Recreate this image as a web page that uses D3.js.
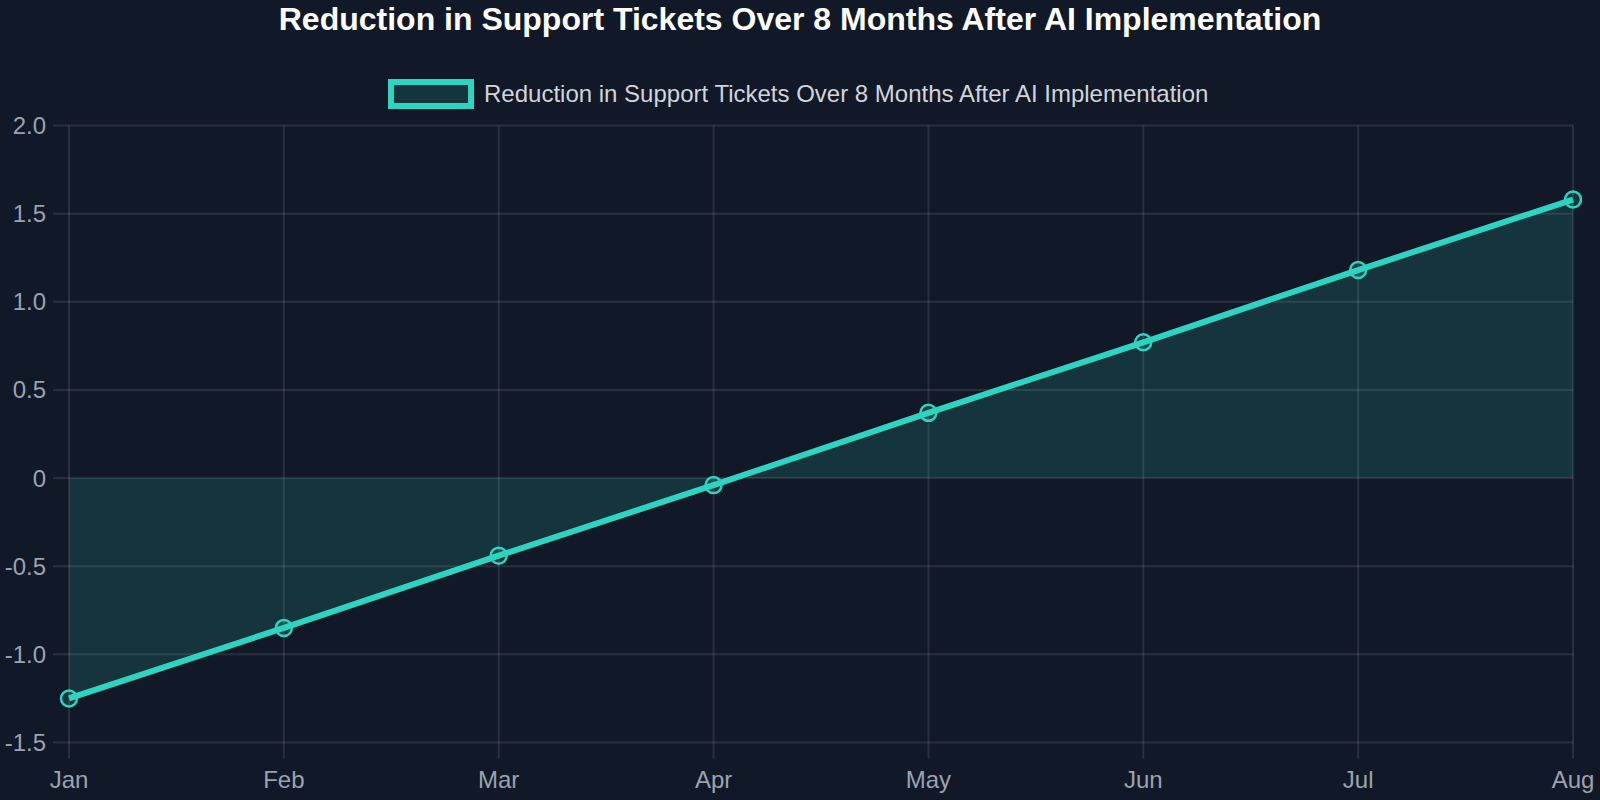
<!DOCTYPE html>
<html>
<head>
<meta charset="utf-8">
<script src="https://cdn.jsdelivr.net/npm/d3@7"></script>
<style>
  html, body { margin: 0; padding: 0; background: #111827; }
  svg { display: block; }
  text { font-family: "Liberation Sans", Arial, Helvetica, sans-serif; }
</style>
</head>
<body>
<svg id="chart" width="1600" height="800"></svg>
<script>
const titleText = "Reduction in Support Tickets Over 8 Months After AI Implementation";
const seriesName = "Reduction in Support Tickets Over 8 Months After AI Implementation";
const months = ["Jan", "Feb", "Mar", "Apr", "May", "Jun", "Jul", "Aug"];
const values = [-1.25, -0.85, -0.44, -0.04, 0.37, 0.77, 1.18, 1.58];
const yTicks = [-1.5, -1.0, -0.5, 0, 0.5, 1.0, 1.5, 2.0];
const yTickLabels = ["-1.5", "-1.0", "-0.5", "0", "0.5", "1.0", "1.5", "2.0"];

const W = 1600, H = 800;
const plot = { left: 69, right: 1573, top: 125.5, bottom: 742.5 };
const teal = "#2dd4bf";
const tealFill = "rgba(45,212,191,0.15)";
const gridColor = "rgba(255,255,255,0.1)";
const tickColor = "#9ca3af";

const svg = d3.select("#chart");
svg.append("rect").attr("width", W).attr("height", H).attr("fill", "#111827");

const x = d3.scalePoint().domain(months).range([plot.left, plot.right]);
const y = d3.scaleLinear().domain([-1.5, 2.0]).range([plot.bottom, plot.top]);

// grid
const grid = svg.append("g");
grid.selectAll("line.h").data(yTicks).join("line")
  .attr("x1", plot.left - 16).attr("x2", plot.right)
  .attr("y1", d => y(d)).attr("y2", d => y(d))
  .attr("stroke", gridColor).attr("stroke-width", 2);
grid.selectAll("line.v").data(months).join("line")
  .attr("x1", d => x(d)).attr("x2", d => x(d))
  .attr("y1", plot.top).attr("y2", plot.bottom + 16)
  .attr("stroke", gridColor).attr("stroke-width", 2);

// y labels
svg.append("g").selectAll("text").data(yTicks).join("text")
  .attr("x", 46).attr("y", d => y(d) + 8.5)
  .attr("text-anchor", "end")
  .attr("font-size", 24).attr("fill", tickColor)
  .text((d, i) => yTickLabels[i]);

// x labels
svg.append("g").selectAll("text").data(months).join("text")
  .attr("x", d => x(d)).attr("y", 788)
  .attr("text-anchor", "middle")
  .attr("font-size", 24).attr("fill", tickColor)
  .text(d => d);

const data = months.map((m, i) => ({ m, v: values[i] }));

// area to origin
const area = d3.area().x(d => x(d.m)).y0(y(0)).y1(d => y(d.v));
svg.append("path").datum(data).attr("d", area).attr("fill", tealFill);

// line
const line = d3.line().x(d => x(d.m)).y(d => y(d.v));
svg.append("path").datum(data).attr("d", line)
  .attr("fill", "none").attr("stroke", teal).attr("stroke-width", 6)
  .attr("stroke-linejoin", "round");

// points
svg.append("g").selectAll("circle").data(data).join("circle")
  .attr("cx", d => x(d.m)).attr("cy", d => y(d.v)).attr("r", 8)
  .attr("fill", tealFill).attr("stroke", teal).attr("stroke-width", 2.5);

// title
svg.append("text").attr("x", W / 2).attr("y", 30)
  .attr("text-anchor", "middle").attr("font-size", 32).attr("font-weight", "bold")
  .attr("fill", "#ffffff").text(titleText);

// legend
const lg = svg.append("g");
lg.append("rect").attr("x", 391).attr("y", 82).attr("width", 80).attr("height", 24)
  .attr("fill", tealFill).attr("stroke", teal).attr("stroke-width", 6);
lg.append("text").attr("x", 484).attr("y", 102)
  .attr("font-size", 24).attr("fill", "#d1d5db").text(seriesName);
</script>
</body>
</html>
